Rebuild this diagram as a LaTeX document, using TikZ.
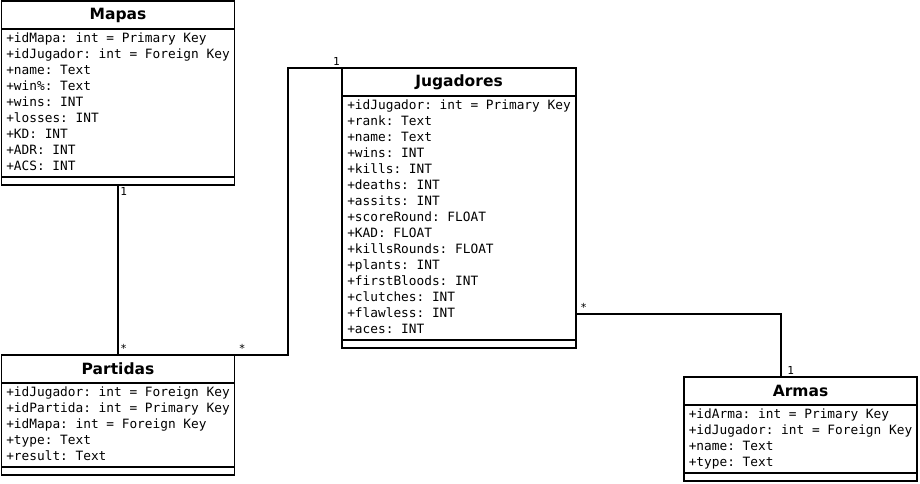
\documentclass[tikz,border=0pt]{standalone}
\usepackage{fontspec}
\setmainfont{DejaVu Sans}
\newfontfamily\attrfamily{DejaVu Sans Mono}
\newcommand\attrfont{\fontsize{12.8}{16}\selectfont\attrfamily\spaceskip=7.7pt\xspaceskip=7.7pt\relax}
\usepackage{tikz}
\usetikzlibrary{positioning,calc}

\begin{document}
\begin{tikzpicture}[
    x=1pt, y=-1pt,
    classtitle/.style={
        rectangle, draw, line width=1.6pt, minimum width=233pt, minimum height=28pt,
        inner sep=0pt, outer sep=0pt, anchor=north west, font=\fontsize{15.5}{18}\selectfont\bfseries
    },
    classattrs/.style={
        rectangle, draw, line width=1.6pt, minimum width=233pt, inner xsep=2pt, inner ysep=2pt,
        outer sep=0pt, anchor=north, font=\attrfont
    },
    classops/.style={
        rectangle, draw, line width=1.6pt, minimum width=233pt, minimum height=8pt,
        inner sep=0pt, outer sep=0pt, anchor=north
    },
    mult/.style={font=\fontsize{11}{12}\selectfont\attrfamily, inner sep=1.5pt}
]
    \useasboundingbox (0,0) rectangle (920,484);

    % Mapas
    \node[classtitle] (mapas) at (1.5,1) {Mapas};
    \node[classattrs,below=0pt of mapas] (mapasattr) {\begin{tabular}{@{}l@{}}
        +idMapa: int = Primary Key\\
        +idJugador: int = Foreign Key\\
        +name: Text\\
        +win\%: Text\\
        +wins: INT\\
        +losses: INT\\
        +KD: INT\\
        +ADR: INT\\
        +ACS: INT
    \end{tabular}};
    \node[classops,below=0pt of mapasattr] (mapasops) {};

    % Jugadores
    \node[classtitle,minimum width=234pt] (jugadores) at (342,68) {Jugadores};
    \node[classattrs,minimum width=234pt,below=0pt of jugadores] (jugadoresattr) {\begin{tabular}{@{}l@{}}
        +idJugador: int = Primary Key\\
        +rank: Text\\
        +name: Text\\
        +wins: INT\\
        +kills: INT\\
        +deaths: INT\\
        +assits: INT\\
        +scoreRound: FLOAT\\
        +KAD: FLOAT\\
        +killsRounds: FLOAT\\
        +plants: INT\\
        +firstBloods: INT\\
        +clutches: INT\\
        +flawless: INT\\
        +aces: INT
    \end{tabular}};
    \node[classops,minimum width=234pt,below=0pt of jugadoresattr] (jugadoresops) {};

    % Partidas
    \node[classtitle] (partidas) at (1.5,355) {Partidas};
    \node[classattrs,below=0pt of partidas] (partidasattr) {\begin{tabular}{@{}l@{}}
        +idJugador: int = Foreign Key\\
        +idPartida: int = Primary Key\\
        +idMapa: int = Foreign Key\\
        +type: Text\\
        +result: Text
    \end{tabular}};
    \node[classops,below=0pt of partidasattr] (partidasops) {};

    % Armas
    \node[classtitle] (armas) at (684,377) {Armas};
    \node[classattrs,below=0pt of armas] (armasattr) {\begin{tabular}{@{}l@{}}
        +idArma: int = Primary Key\\
        +idJugador: int = Foreign Key\\
        +name: Text\\
        +type: Text
    \end{tabular}};
    \node[classops,below=0pt of armasattr] (armasops) {};

    % Relations
    \draw[line width=1.6pt] (mapasops.south) node[mult,anchor=north west] {1}
        -- (partidas.north) node[mult,anchor=south west] {*};
    \draw[line width=1.6pt] (partidas.north east) node[mult,anchor=south west,xshift=2pt] {*}
        -- ++(53.5,0) |- (jugadores.north west) node[mult,anchor=south east] {1};
    \draw[line width=1.6pt] ([yshift=26pt]jugadoresattr.south east) node[mult,anchor=south west,xshift=2pt] {*}
        -| ([xshift=97pt]armas.north west) node[mult,anchor=south west,xshift=4pt] {1};
\end{tikzpicture}
\end{document}
